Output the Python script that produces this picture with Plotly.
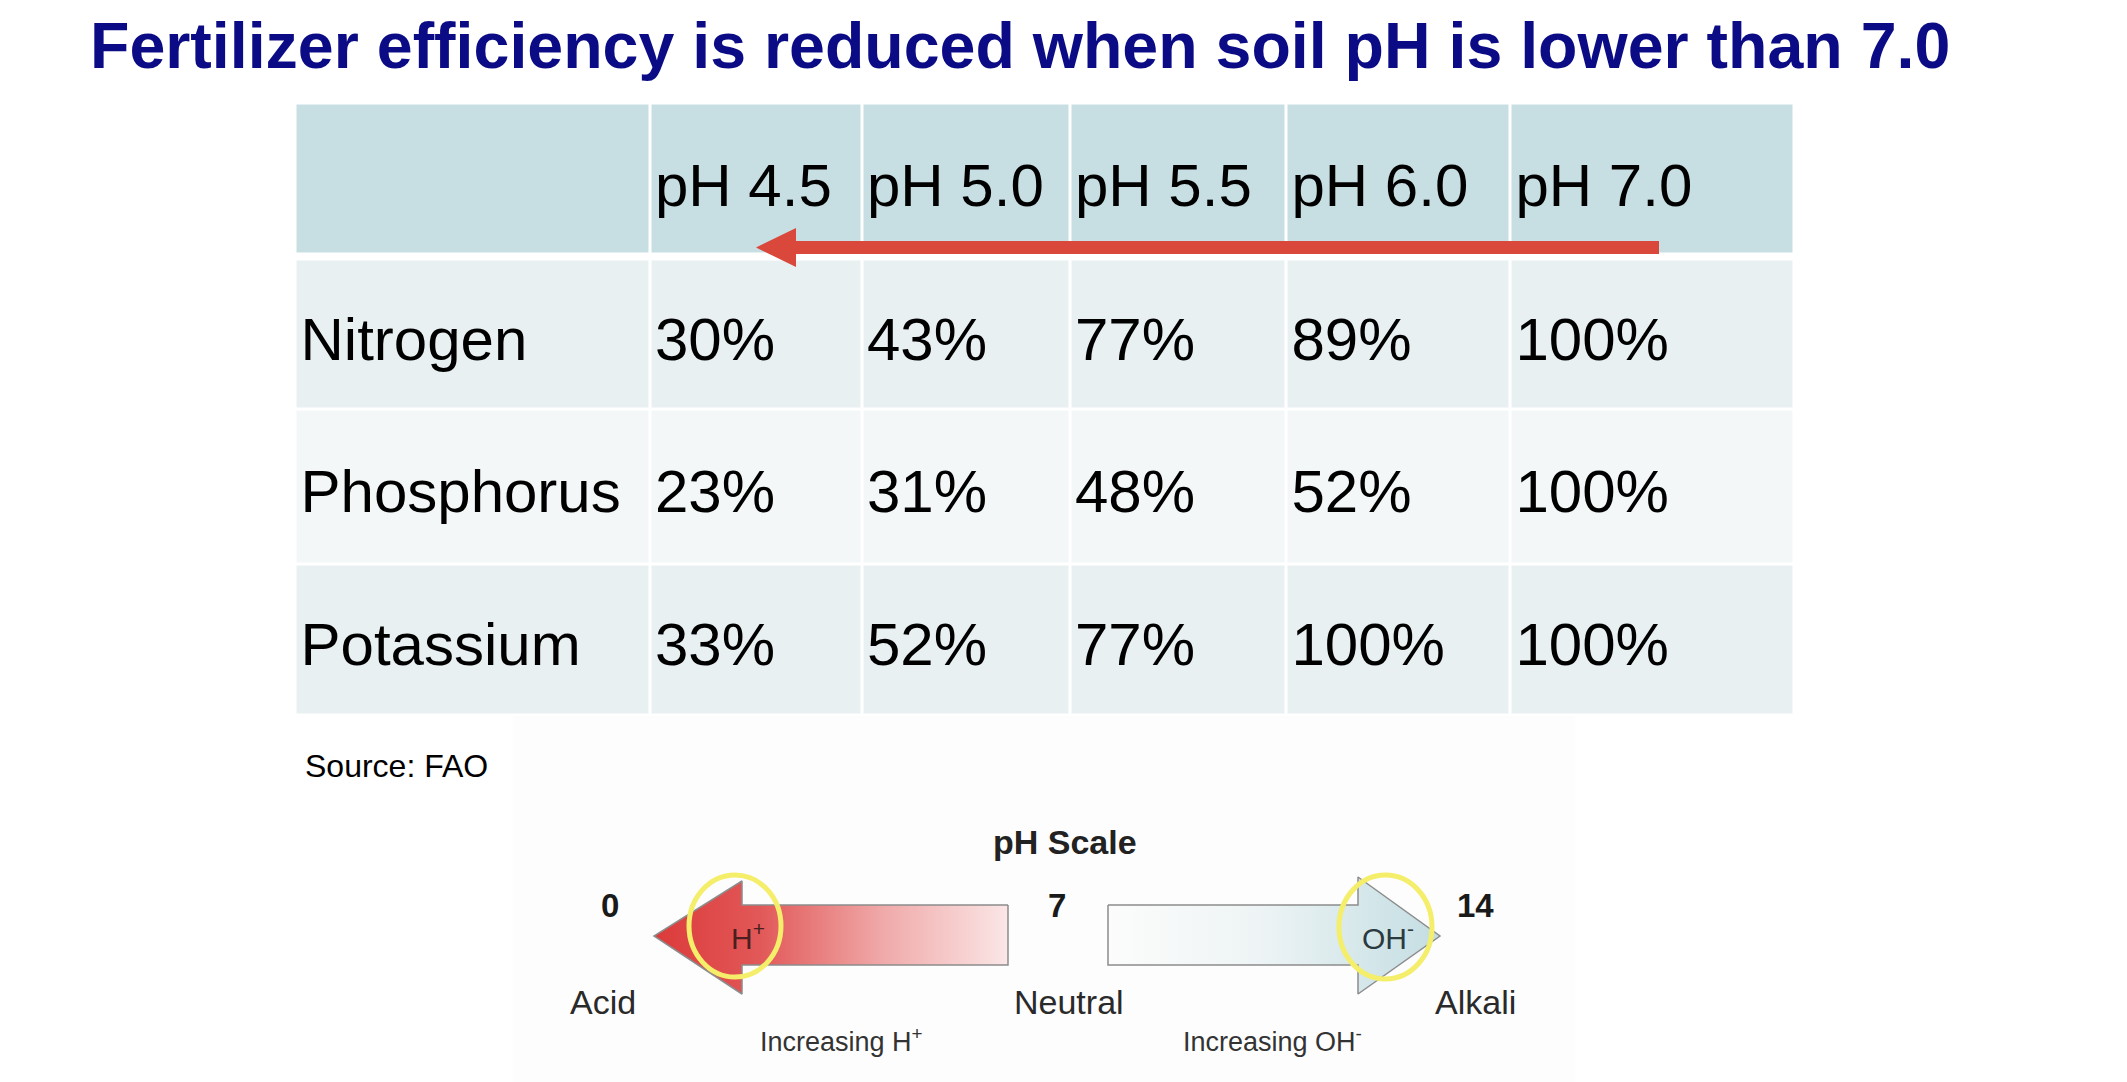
import plotly.graph_objects as go

# table data (FAO)
nutrients = ["Nitrogen", "Phosphorus", "Potassium"]
ph_levels = ["pH 4.5", "pH 5.0", "pH 5.5", "pH 6.0", "pH 7.0"]
nitrogen = [30, 43, 77, 89, 100]
phosphorus = [23, 31, 48, 52, 100]
potassium = [33, 52, 77, 100, 100]

# pH scale labels
scale_ticks = ["0", "7", "14"]
scale_names = ["Acid", "Neutral", "Alkali"]

W, H = 2127, 1082
PAGE_PAD = 8  # default body margin of the html page

# table geometry in pixel coords (axis = pixels, y reversed)
col_edges = [295.5, 650, 862, 1070, 1286.5, 1510.5, 1794.5]
head_edges = [103.5, 254.5]
body_edges = [259.5, 409.5, 564, 715.5]

fig = go.Figure()

# header cells
fig.add_trace(go.Heatmap(
    x=col_edges, y=head_edges, z=[[0] * 6],
    colorscale=[[0, "#c7dee2"], [1, "#c7dee2"]],
    xgap=3, ygap=3, showscale=False, hoverinfo="skip"))

# body cells, alternating row colours
fig.add_trace(go.Heatmap(
    x=col_edges, y=body_edges, z=[[1] * 6, [2] * 6, [1] * 6],
    zmin=1, zmax=2,
    colorscale=[[0, "#e8f0f2"], [1, "#f3f7f8"]],
    xgap=3, ygap=3, showscale=False, hoverinfo="skip"))

# cell text
rows = [[""] + ph_levels]
for name, vals in zip(nutrients, [nitrogen, phosphorus, potassium]):
    rows.append([name] + [f"{v}%" for v in vals])
row_mid = [(head_edges[0] + head_edges[1]) / 2] + [
    (body_edges[i] + body_edges[i + 1]) / 2 for i in range(3)]
row_shift = [12, 10, 10, 10]

tx, ty, tt = [], [], []
for r, row in enumerate(rows):
    for c, txt in enumerate(row):
        if not txt:
            continue  # empty corner cell
        tx.append(col_edges[c] + 5)
        ty.append(row_mid[r] + row_shift[r])
        tt.append(txt)
fig.add_trace(go.Scatter(
    x=tx, y=ty, text=tt, mode="text", textposition="middle right",
    textfont=dict(family="Liberation Sans, Arial, sans-serif", size=60, color="#000000"),
    hoverinfo="skip", showlegend=False))

# pH scale arrows with gradients
fig.add_trace(go.Scatter(
    x=[1008, 742, 742, 654, 742, 742, 1008, 1008],
    y=[905, 905, 881, 936, 994, 965, 965, 905],
    mode="lines", fill="toself",
    line=dict(color="#8c8c8c", width=1.5),
    fillgradient=dict(type="horizontal",
                      colorscale=[[0, "#dc3a3a"], [0.3, "#e25858"], [0.65, "#f0aaaa"], [1, "#fbe6e6"]]),
    hoverinfo="skip", showlegend=False))
fig.add_trace(go.Scatter(
    x=[1108, 1358, 1358, 1440, 1358, 1358, 1108, 1108],
    y=[905, 905, 877, 936, 994, 965, 965, 905],
    mode="lines", fill="toself",
    line=dict(color="#8c8c8c", width=1.5),
    fillgradient=dict(type="horizontal",
                      colorscale=[[0, "#fcfcfc"], [0.45, "#eef4f5"], [0.8, "#d3e6e9"], [1, "#c4dde2"]]),
    hoverinfo="skip", showlegend=False))

shapes = [
    # faint panel behind the pH scale picture
    dict(type="rect", x0=513, x1=1575, y0=716, y1=1090, fillcolor="#fdfdfd",
         line=dict(width=0), layer="below"),
    # red arrow in the header
    dict(type="path",
         path="M 1659 241 L 796 241 L 796 228 L 756 247.5 L 796 267 L 796 254 L 1659 254 Z",
         fillcolor="#d9483a", line=dict(width=0), layer="above"),
    # yellow circles
    dict(type="circle", x0=689, x1=781, y0=875, y1=977,
         line=dict(color="#f4ee6a", width=5), layer="above"),
    dict(type="circle", x0=1339, x1=1432, y0=875, y1=979,
         line=dict(color="#f4ee6a", width=5), layer="above"),
]

arial = "Liberation Sans, Arial, sans-serif"
annotations = [
    dict(x=88, y=46, text="<b>Fertilizer efficiency is reduced when soil pH is lower than 7.0</b>",
         xanchor="left", yanchor="middle", showarrow=False,
         font=dict(family=arial, size=64.5, color="#0b0b86")),
    dict(x=303, y=766, text="Source: FAO", xanchor="left", yanchor="middle", showarrow=False,
         font=dict(family=arial, size=32, color="#000000")),
    dict(x=1065, y=842, text="<b>pH Scale</b>", xanchor="center", yanchor="middle",
         showarrow=False, font=dict(family=arial, size=34, color="#222222")),
    dict(x=748, y=936, text="H<sup>+</sup>", xanchor="center", yanchor="middle",
         showarrow=False, font=dict(family=arial, size=30, color="#4a1f1f")),
    dict(x=1388, y=936, text="OH<sup>-</sup>", xanchor="center", yanchor="middle",
         showarrow=False, font=dict(family=arial, size=30, color="#2a3a3e")),
    dict(x=841, y=1040, text="Increasing H<sup>+</sup>", xanchor="center", yanchor="middle",
         showarrow=False, font=dict(family=arial, size=27, color="#333333")),
    dict(x=1272, y=1040, text="Increasing OH<sup>-</sup>", xanchor="center", yanchor="middle",
         showarrow=False, font=dict(family=arial, size=27, color="#333333")),
]
for tick, name, xc, xn in zip(scale_ticks, scale_names, [610, 1057, 1475], [603, 1069, 1475]):
    annotations.append(dict(x=xc, y=905, text=f"<b>{tick}</b>", xanchor="center", yanchor="middle",
                            showarrow=False, font=dict(family=arial, size=33, color="#1a1a1a")))
    annotations.append(dict(x=xn, y=1002, text=name, xanchor="center", yanchor="middle",
                            showarrow=False, font=dict(family=arial, size=34, color="#2a2a2a")))

fig.update_layout(
    width=W, height=H,
    margin=dict(l=0, r=0, t=0, b=0),
    paper_bgcolor="white", plot_bgcolor="white",
    # shift the ranges so that page pixels line up with the reference
    xaxis=dict(range=[PAGE_PAD, W + PAGE_PAD], visible=False, fixedrange=True),
    yaxis=dict(range=[H + PAGE_PAD, PAGE_PAD], visible=False, fixedrange=True),
    shapes=shapes, annotations=annotations,
    showlegend=False,
)

fig.write_html("out.html")
